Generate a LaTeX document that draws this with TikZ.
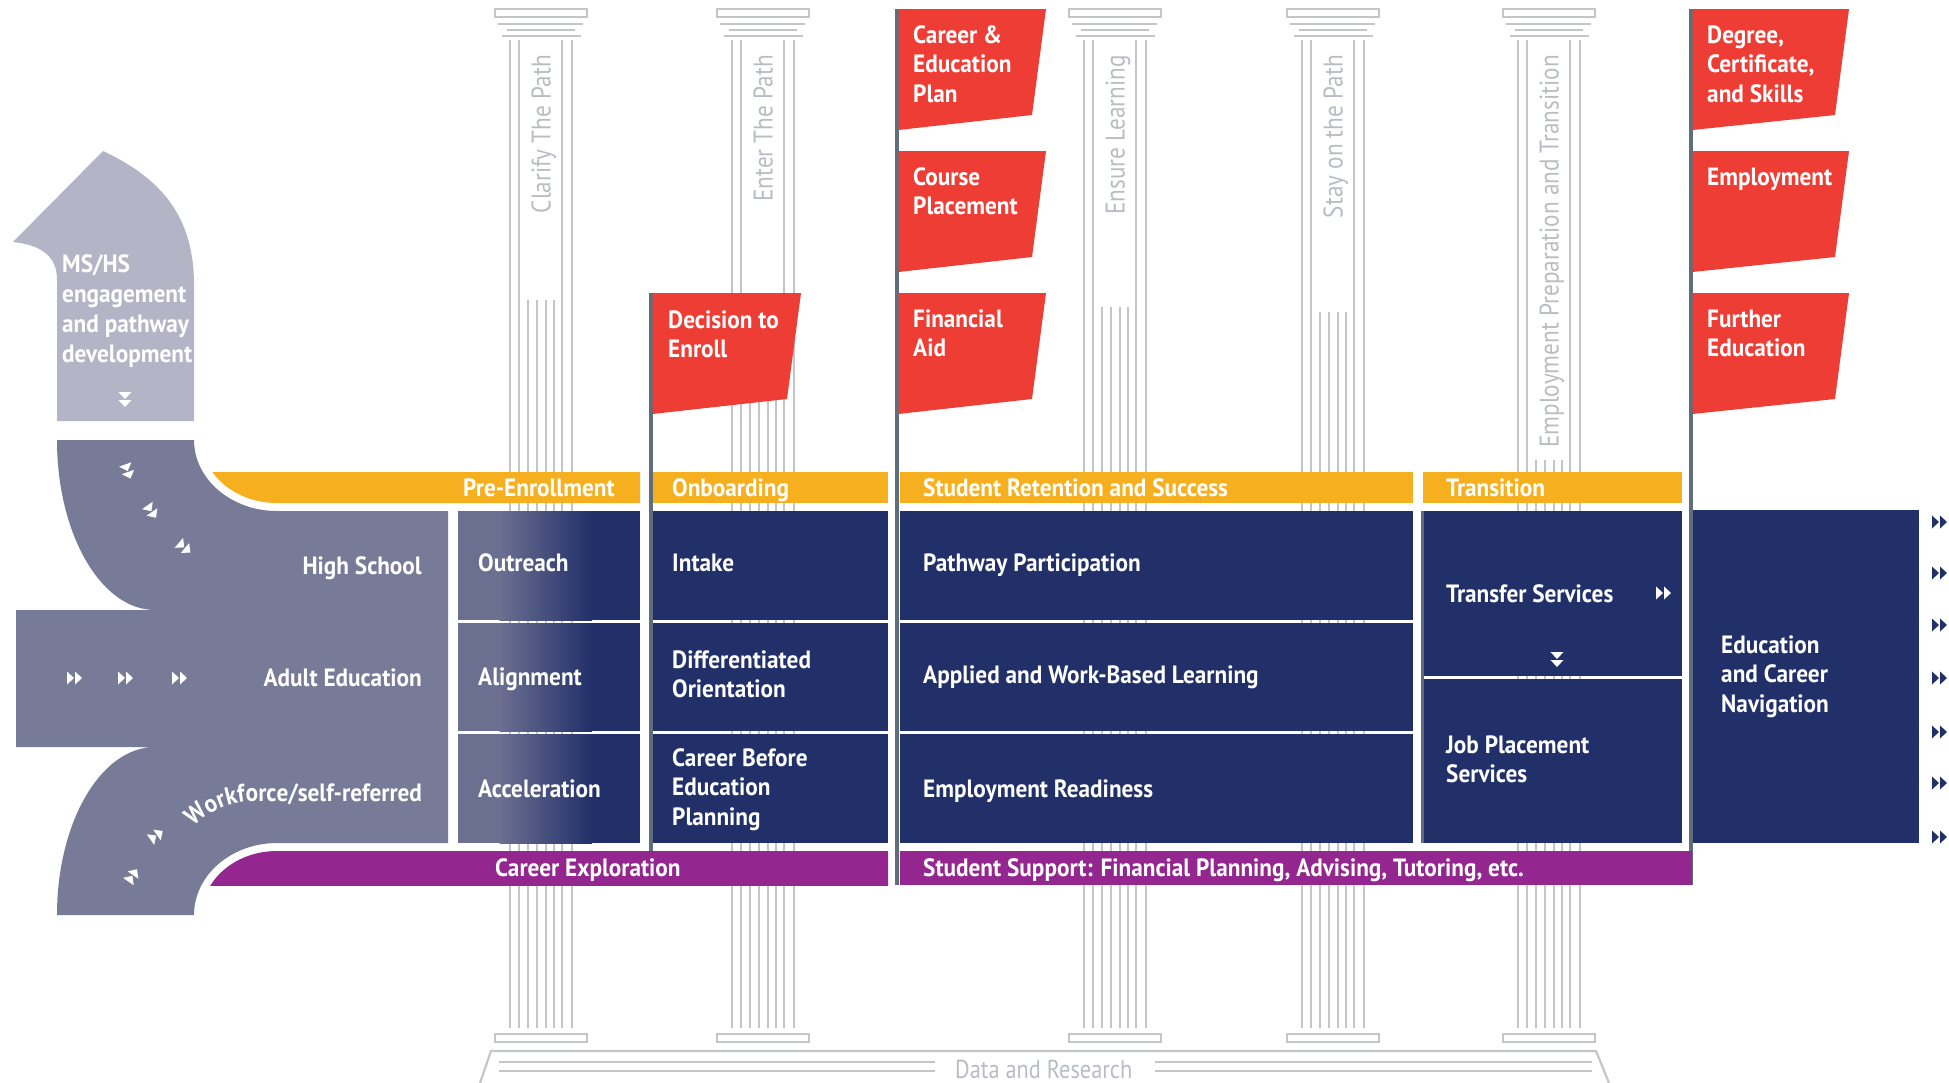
\documentclass[tikz,border=0pt]{standalone}
\usepackage{fontspec}
\setmainfont{PT Sans}[FakeStretch=0.93]
\newfontfamily\pilfont{PT Sans}[FakeStretch=0.86]
\usetikzlibrary{decorations.text}
\definecolor{navy}{HTML}{22306A}
\definecolor{orng}{HTML}{F6B01F}
\definecolor{flagred}{HTML}{EE3D35}
\definecolor{purp}{HTML}{93278F}
\definecolor{flowdark}{HTML}{787B97}
\definecolor{flowlight}{HTML}{B3B5C7}
\definecolor{pil}{HTML}{C3C5C9}
\definecolor{pilt}{HTML}{B9BCC2}
\definecolor{polec}{HTML}{5E6E7C}
\definecolor{fadegray}{HTML}{6B6F90}
\tikzset{
  pilline/.style={draw=pil, line width=2.2pt},
  pole/.style={draw=polec, line width=3.5pt},
  wtext/.style={text=white, inner sep=0pt, font=\bfseries\fontsize{25}{29.5}\selectfont, anchor=base west, align=left},
  flowtext/.style={text=white, inner sep=0pt, font=\bfseries\fontsize{25}{30}\selectfont},
  piltext/.style={text=pilt, inner sep=0pt, font=\pilfont\fontsize{27}{27}\selectfont, rotate=90, anchor=base east},
  dbl/.pic={\fill (-8,-6.5) -- (-1,0) -- (-8,6.5) -- cycle (0,-6.5) -- (7,0) -- (0,6.5) -- cycle;}
}
\newcommand\mkpillar[4]{%
  \draw[pilline] (#1,9) rectangle (#1+92,17);
  \draw[pilline] (#1+3,24) -- (#1+88,24);
  \draw[pilline] (#1+12,30) -- (#1+80,30);
  \draw[pilline] (#1+7,36) -- (#1+86,36);
  \foreach \dx in {15,24,67,77} \draw[pilline] (#1+\dx,40) -- (#1+\dx,1028);
  \foreach \dx in {33,42,51,59} \draw[pilline] (#1+\dx,#2) -- (#1+\dx,1028);
  \draw[pilline] (#1,1034) rectangle (#1+92,1042);
  \node[piltext] (#4) at (#1+55.5,55) {#3};
}
\newcommand\mkflag[3]{%
  \fill[flagred] (#1+1.5,#2) -- (#1+#3,#2) -- (#1+#3-14,#2+106) -- (#1+1.5,#2+121) -- cycle;
}
\begin{document}
\begin{tikzpicture}[x=1pt,y=-1pt]
\useasboundingbox (0,0) rectangle (1949,1082);
% pillars
\mkpillar{495}{300}{Clarify The Path}{p1}
\mkpillar{717}{300}{Enter The Path}{p2}
\mkpillar{1069}{307}{Ensure Learning}{p3}
\mkpillar{1287}{312}{Stay on the Path}{p4}
\mkpillar{1503}{460}{Employment Preparation and Transition}{p5}
% platform
\draw[pilline] (480,1083) -- (491,1051) -- (1596,1051) -- (1609,1083);
\draw[pilline] (499,1062) -- (935,1062) (499,1071) -- (935,1071);
\draw[pilline] (1155,1062) -- (1592,1062) (1155,1071) -- (1592,1071);
\node[text=pilt, inner sep=0pt, font=\pilfont\fontsize{26}{26}\selectfont, anchor=base west] (data) at (955,1078) {Data and Research};
% poles
\draw[pole] (651,293) -- (651,851);
\draw[pole] (897,9) -- (897,885);
\draw[pole] (1691,9) -- (1691,885);
% flags
\mkflag{651}{293}{150}
\mkflag{897}{9}{149}
\mkflag{897}{151}{149}
\mkflag{897}{293}{149}
\mkflag{1691}{9}{158}
\mkflag{1691}{151}{158}
\mkflag{1691}{293}{158}
% orange bars
\begin{scope}
\clip (0,472) rectangle (700,503);
\fill[orng] (277,503) -- (640,503) -- (640,430) -- (202,430) -- (202,440) .. controls (202,474.8) and (235.6,503) .. (277,503) -- cycle;
\end{scope}
\fill[orng] (653,472) rectangle (888,503);
\fill[orng] (900,472) rectangle (1413,503);
\fill[orng] (1423,472) rectangle (1682,503);
% purple bars
\begin{scope}
\clip (0,851) rectangle (895,885);
\fill[purp] (277,851) -- (888,851) -- (888,930) -- (202,930) -- (202,915) .. controls (202,879.7) and (235.6,851) .. (277,851) -- cycle;
\end{scope}
\fill[purp] (900,851) rectangle (1692,885);
% boxes
\foreach \a/\b in {511/620, 623/731, 734/843} {
  \fill[navy] (458,\a) rectangle (640,\b);
  \fill[fadegray] (458,\a) rectangle (500,\b);
  \shade[left color=fadegray, right color=navy] (499.5,\a) rectangle (592,\b);
  \fill[navy] (653,\a) rectangle (888,\b);
  \fill[navy] (900,\a) rectangle (1413,\b);
}
\fill[navy] (1423,511) rectangle (1682,675.5);
\fill[navy] (1423,678.5) rectangle (1682,843);
\draw[polec, line width=3pt] (1422,511) -- (1422,843);
\fill[navy] (1693,510) rectangle (1919,843);
% flow shapes
\fill[flowlight] (57,421) -- (194,421) -- (194,285) .. controls (194,220) and (165,180) .. (103,151) -- (13,242) .. controls (40,245) and (57,255) .. (57,280) -- cycle;
\fill[flowdark] (57,440) -- (194,440) .. controls (194,479.2) and (231.2,511) .. (277,511) -- (448,511) -- (448,843) -- (277,843) .. controls (231.2,843) and (194,875.3) .. (194,915) -- (57,915) .. controls (57,822.3) and (100.9,747) .. (155,747) -- (16,747) -- (16,610) -- (155,610) .. controls (100.9,610) and (57,533.8) .. (57,440) -- cycle;
% flow texts (base anchor = last line)
\node[flowtext, anchor=base west, align=left] (mshs) at (62,362) {MS/HS\\engagement\\and pathway\\development};
\node[flowtext, anchor=base east] (hs) at (422,574) {High School};
\node[flowtext, anchor=base east] (ae) at (422,686) {Adult Education};
\path[decorate, decoration={text along path, text align=right, text={|\bfseries\fontsize{25}{25}\selectfont\color{white}|Workforce/self-referred}}] (168,870) .. controls (186,826) and (213,801) .. (255,801) -- (422,801);
% chevrons on flow
\pic[color=white, rotate=-90] at (125,400) {dbl};
\pic[color=white, rotate=-70] at (128,472) {dbl};
\pic[color=white, rotate=-55] at (152,512) {dbl};
\pic[color=white, rotate=-40] at (185,548) {dbl};
\pic[color=white] at (75,678) {dbl};
\pic[color=white] at (126,678) {dbl};
\pic[color=white] at (180,678) {dbl};
\pic[color=white, rotate=35] at (157,835) {dbl};
\pic[color=white, rotate=55] at (133,875) {dbl};
% bar texts
\node[wtext] (pre) at (463,496) {Pre-Enrollment};
\node[wtext] (onb) at (672,496) {Onboarding};
\node[wtext] (srs) at (923,496) {Student Retention and Success};
\node[wtext] (trn) at (1446,496) {Transition};
\node[wtext] (cex) at (495,876) {Career Exploration};
\node[wtext] (ssp) at (923,876) {Student Support: Financial Planning, Advising, Tutoring, etc.};
% flag texts (base anchor = last line)
\node[wtext] (f1) at (668,357.5) {Decision to\\Enroll};
\node[wtext] (f2) at (913,102) {Career \&\\Education\\Plan};
\node[wtext] (f3) at (913,214.5) {Course\\Placement};
\node[wtext] (f4) at (913,356.5) {Financial\\Aid};
\node[wtext] (f5) at (1707,102) {Degree,\\Certificate,\\and Skills};
\node[wtext] (f6) at (1707,185) {Employment};
\node[wtext] (f7) at (1707,356.5) {Further\\Education};
% box texts
\node[wtext] (b1) at (478,571) {Outreach};
\node[wtext] (b2) at (478,685) {Alignment};
\node[wtext] (b3) at (478,797) {Acceleration};
\node[wtext] (b4) at (672,571) {Intake};
\node[wtext] (b5) at (672,697.5) {Differentiated\\Orientation};
\node[wtext] (b6) at (672,825) {Career Before\\Education\\Planning};
\node[wtext] (b7) at (923,571) {Pathway Participation};
\node[wtext] (b8) at (923,683) {Applied and Work-Based Learning};
\node[wtext] (b9) at (923,797) {Employment Readiness};
\node[wtext] (b10) at (1446,602) {Transfer Services};
\node[wtext] (b11) at (1446,782.5) {Job Placement\\Services};
\node[wtext] (b12) at (1721,712) {Education\\and Career\\Navigation};
\pic[color=white] at (1664,593) {dbl};
\pic[color=white, rotate=-90] at (1557,660) {dbl};
% right arrows
\foreach \yy in {522,573,625,678,732,783,837} \pic[color=navy] at (1940,\yy) {dbl};
\end{tikzpicture}
\end{document}
